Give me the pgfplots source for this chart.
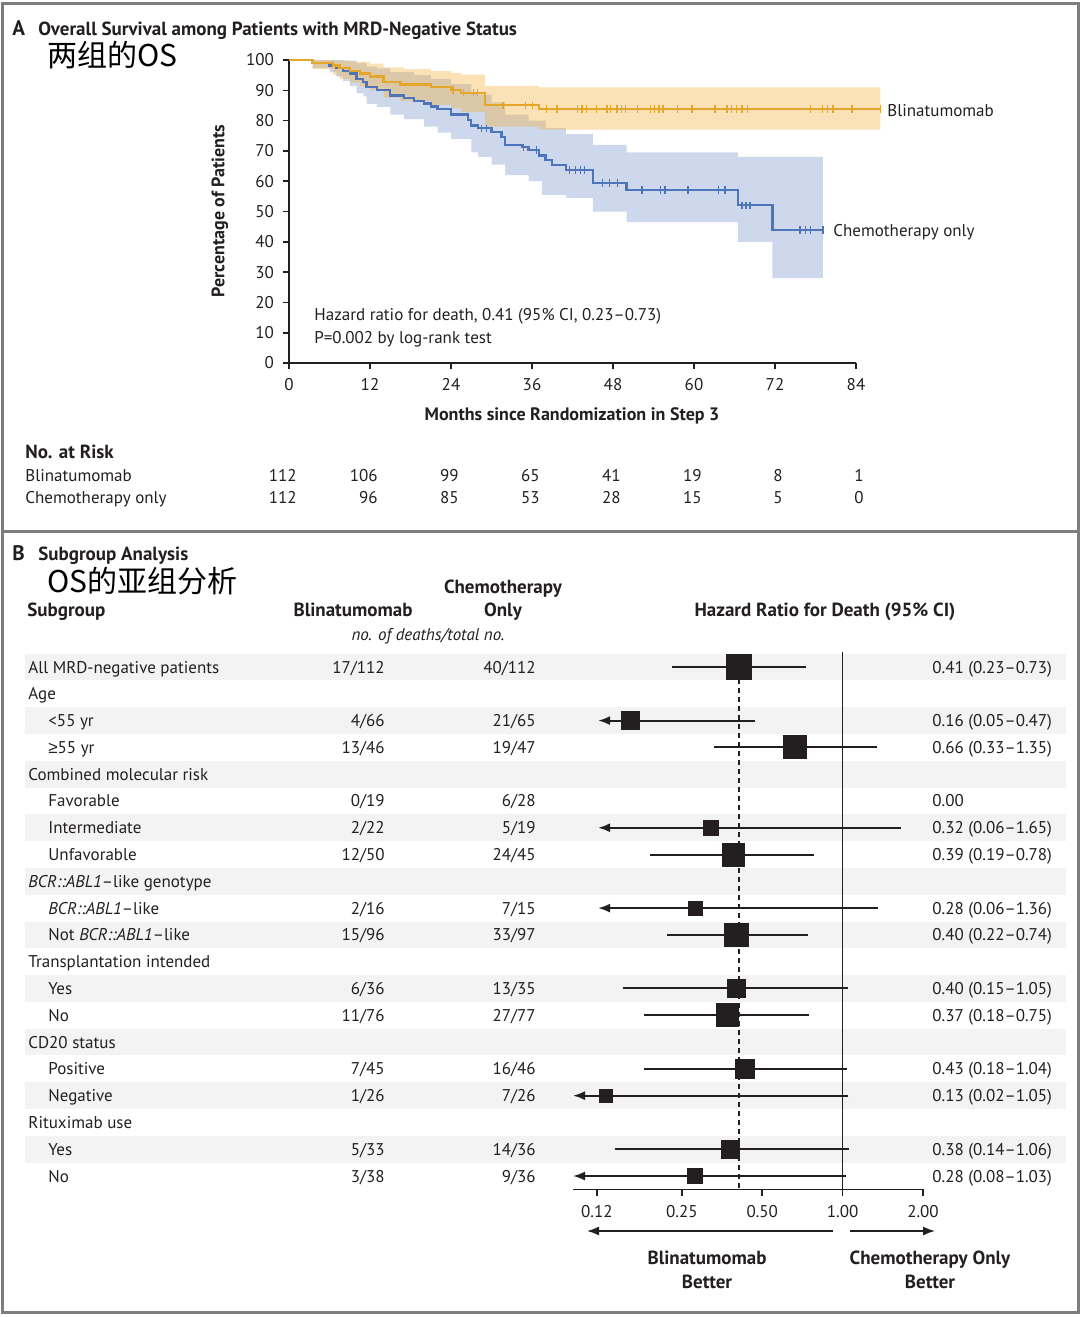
\documentclass[border=0pt]{standalone}
\usepackage{pgfplots}
\pgfplotsset{compat=1.18}
\usepackage{pgfplotstable}
\usepgfplotslibrary{fillbetween}
\usetikzlibrary{arrows.meta}
\usepackage{fontspec}
\setmainfont{PT Sans}
\newfontfamily\cjk{Noto Sans CJK SC}
\newfontfamily\symf{Liberation Sans}
\definecolor{orng}{RGB}{229,166,44}
\definecolor{orngband}{RGB}{242,172,45}
\definecolor{blu}{RGB}{78,116,186}
\definecolor{bluband}{RGB}{91,127,192}
\definecolor{txt}{RGB}{35,31,32}
\definecolor{rowg}{RGB}{243,243,243}
\definecolor{framec}{RGB}{125,125,125}

\pgfplotstableread{
row hr s
-1 0.41 6.25
-3 0.16 4.5
-4 0.66 5.75
-7 0.32 3.75
-8 0.39 5.7
-10 0.28 3.5
-11 0.40 5.8
-13 0.40 4.7
-14 0.37 5.7
-16 0.43 4.7
-17 0.13 3.2
-19 0.38 4.5
-20 0.28 3.8
}\forest

\newcommand{\fs}{\fontsize{8.5}{10}\selectfont}
\newcommand{\fb}{\bfseries\fontsize{9.5}{11}\selectfont}

\begin{document}
\begin{tikzpicture}[font=\fs,text=txt]
\begin{scope}[x=0.5pt,y=-0.5pt]
\useasboundingbox (0,0) rectangle (1080,1317);
\draw[framec,line width=1.5pt] (2,3) -- (1078,3) -- (1078,1312) -- (2,1312) -- cycle;
\draw[framec,line width=1.5pt] (2,531) -- (1078,531);
% row shading (panel B)
\foreach \i in {1,3,...,19}{
  \fill[rowg] (25,{667+(\i-1)*26.79-13.4}) rectangle (1066,{667+(\i-1)*26.79+13.4});
}
\end{scope}

% ---------------- Panel A axis ----------------
\begin{axis}[at={(144.5pt,-181.5pt)},anchor=south west,scale only axis,
  width=283.5pt,height=151.5pt,
  xmin=0,xmax=84,ymin=0,ymax=100,clip=false,
  axis x line*=bottom,axis y line*=left,
  x axis line style={-},y axis line style={-},
  axis line style={line width=0.8pt,txt},
  xtick={0,12,...,84},ytick={0,10,...,100},
  tick align=outside,major tick length=3pt,
  tick style={line width=0.8pt,txt},
  tick label style={font=\fs,text=txt},
  /pgf/number format/assume math mode=true,
  xticklabel style={yshift=-1pt},
  yticklabel style={xshift=-1pt}]
\addplot[const plot,draw=none,name path=bu] coordinates {
(0,100) (6,100) (8,99.8) (10,99) (11.5,97.8) (13,97.2) (15,96) (18.5,95) (21,93.8) (24,92) (27,89.5) (28,88.5) (30,86) (32,82) (35.5,80) (38,77.5) (41,75.5) (45,72) (50,69.5) (66.5,68) (79.1,68)};
\addplot[const plot,draw=none,name path=bl] coordinates {
(0,100) (3.5,97.3) (6,96) (7,94.5) (8,93) (9,91.5) (10,89) (11,88) (11.5,85.5) (13,84.5) (15,82) (17,80.5) (20,78) (22,76) (24,74) (27,69.5) (28,68) (30,65.5) (32,62) (35.5,60) (37.5,55.5) (41,54.5) (45,50) (50,46.5) (66.5,40) (71.6,28) (79.1,28)};
\addplot[fill=bluband,fill opacity=0.3,draw=none] fill between[of=bu and bl];
\addplot[const plot,draw=none,name path=ou] coordinates {
(0,100) (6.5,99.9) (9,99.5) (12,98.8) (14,97.6) (17,97) (21,96.3) (24,95.7) (25.5,95.2) (29,91.5) (37,91) (87.6,91)};
\addplot[const plot,draw=none,name path=ol] coordinates {
(0,100) (3.5,97) (6.5,95) (7.5,93.8) (9,92.5) (10.5,91.3) (12,90) (14,87.6) (16.5,86.5) (21,85.2) (24,84) (25.5,82.8) (29,78) (37,77) (87.6,77)};
\addplot[fill=orngband,fill opacity=0.35,draw=none] fill between[of=ou and ol];
\addplot[const plot,blu,line width=1.2pt] coordinates {
(0,100) (3.5,99.1) (6,98.2) (7,97.3) (8,96.4) (9,95.5) (10,93.7) (11,92.8) (11.5,91.0) (13,90.1) (15,88.3) (17,87.4) (18.5,86.5) (20,85.6) (21,84.7) (22,83.8) (24,82.0) (26.5,80.2) (27,78.4) (28,77.5) (30,76.2) (31.5,74.6) (32,72) (34.5,71.2) (35.5,70.3) (37,68.5) (38,67.0) (39,65.3) (41,63.7) (45,59.4) (50,57.1) (66.5,52.1) (71.6,43.9) (79.1,43.9)};
\addplot[const plot,orng,line width=1.2pt] coordinates {
(0,100) (3.5,99.1) (6.5,98.2) (7.5,97.3) (9,96.4) (10.5,95.5) (12,94.6) (14,92.8) (16.5,91.9) (21,91.0) (24,90.1) (25.5,89.2) (29,85.1) (37,83.8) (87.6,83.8)};
\addplot[only marks,mark=|,mark size=1.8pt,blu,mark options={line width=0.6pt}] coordinates {
(28.5,77.5) (29.3,77.5) (34.7,71.2) (36.7,70.3) (41.6,63.7) (42.5,63.7) (43.2,63.7) (43.8,63.7) (46.5,59.4) (47.5,59.4) (48.7,59.4) (52.3,57.1) (55,57.1) (55.7,57.1) (59.1,57.1) (63.6,57.1) (64.6,57.1) (67.1,52.1) (67.7,52.1) (68.3,52.1) (75.7,43.9) (76.5,43.9) (77.2,43.9) (79.1,43.9)};
\addplot[only marks,mark=|,mark size=1.8pt,orng,mark options={line width=0.6pt}] coordinates {
(24.3,90.1) (25.8,89.2) (27.3,89.2) (27.9,89.2) (31.7,85.1) (35,85.1) (36.1,85.1) (38.2,83.8) (39.7,83.8) (42.7,83.8) (43.4,83.8) (44.1,83.8) (45.6,83.8) (47.1,83.8) (47.6,83.8) (48.6,83.8) (49.3,83.8) (49.8,83.8) (51.6,83.8) (53.5,83.8) (54.2,83.8) (54.8,83.8) (55.4,83.8) (57.5,83.8) (59.7,83.8) (63.1,83.8) (64.9,83.8) (65.6,83.8) (66.3,83.8) (67.1,83.8) (67.9,83.8) (77.2,83.8) (79,83.8) (79.8,83.8) (80.6,83.8) (83.4,83.8) (87.6,83.8)};
\end{axis}

% ---------------- Panel B axis ----------------
\begin{axis}[at={(286.5pt,-594.7pt)},anchor=south west,scale only axis,
  width=175pt,height=267.9pt,
  xmode=log,log basis x=2,xmin=0.0977,xmax=2,ymin=-20.5,ymax=-0.5,clip=false,
  axis x line*=bottom,axis y line=none,
  x axis line style={-},
  axis line style={line width=0.8pt,txt},
  xtick={0.12,0.25,0.5,1,2},xticklabels={0.12,0.25,0.50,1.00,2.00},
  tick align=outside,major tick length=3.5pt,
  tick style={line width=0.8pt,txt},
  tick label style={font=\fs,text=txt},
  xticklabel style={yshift=-1pt}]
\addplot[line width=0.8pt,txt] coordinates {(1,-0.45) (1,-20.5)};
\addplot[line width=0.8pt,txt,dash pattern=on 2.5pt off 2pt] coordinates {(0.41,-1.45) (0.41,-20.5)};
\addplot[line width=1pt,txt] coordinates {(0.23,-1) (0.73,-1)};
\addplot[line width=1pt,txt,-{Latex[length=6pt,width=4.5pt]}] coordinates {(0.47,-3) (0.1213,-3)};
\addplot[line width=1pt,txt] coordinates {(0.33,-4) (1.35,-4)};
\addplot[line width=1pt,txt,-{Latex[length=6pt,width=4.5pt]}] coordinates {(1.65,-7) (0.1213,-7)};
\addplot[line width=1pt,txt] coordinates {(0.19,-8) (0.78,-8)};
\addplot[line width=1pt,txt,-{Latex[length=6pt,width=4.5pt]}] coordinates {(1.36,-10) (0.1213,-10)};
\addplot[line width=1pt,txt] coordinates {(0.22,-11) (0.74,-11)};
\addplot[line width=1pt,txt] coordinates {(0.15,-13) (1.05,-13)};
\addplot[line width=1pt,txt] coordinates {(0.18,-14) (0.75,-14)};
\addplot[line width=1pt,txt] coordinates {(0.18,-16) (1.04,-16)};
\addplot[line width=1pt,txt,-{Latex[length=6pt,width=4.5pt]}] coordinates {(1.05,-17) (0.0977,-17)};
\addplot[line width=1pt,txt] coordinates {(0.14,-19) (1.06,-19)};
\addplot[line width=1pt,txt,-{Latex[length=6pt,width=4.5pt]}] coordinates {(1.03,-20) (0.0977,-20)};
\addplot[scatter,only marks,mark=square*,
  scatter/use mapped color={draw=txt,fill=txt},
  visualization depends on={\thisrow{s} \as \ms},
  scatter/@pre marker code/.append style={/tikz/mark size=\ms}]
  table[x=hr,y=row] {\forest};
\end{axis}

\begin{scope}[x=0.5pt,y=-0.5pt,every node/.style={inner sep=0pt}]
% Panel A text
\node[anchor=base west,font=\bfseries\fontsize{10.5}{12}\selectfont] at (12,35) {A};
\node[anchor=base west,font=\fb] at (38,35) {Overall Survival among Patients with MRD-Negative Status};
\node[anchor=base west,font=\cjk\fontsize{15}{17}\selectfont,text=black] at (47,66) {两组的OS};
\node[anchor=west] at (887,111) {Blinatumomab};
\node[anchor=west] at (833,232) {Chemotherapy only};
\node[anchor=base west] at (314,320) {Hazard ratio for death, 0.41 (95\% CI, 0.23--0.73)};
\node[anchor=base west] at (314,343) {P=0.002 by log-rank test};
\node[rotate=90,font=\bfseries\fontsize{9}{10}\selectfont] at (220,211) {Percentage of Patients};
\node[font=\bfseries\fontsize{9}{10}\selectfont] at (572,416) {Months since Randomization in Step 3};
\node[anchor=base west,font=\fb] at (25,458) {No. at Risk};
\node[anchor=base west] at (25,481) {Blinatumomab};
\node[anchor=base west] at (25,503) {Chemotherapy only};
\foreach \x/\a/\b in {289/112/112,370/106/96,451/99/85,532/65/53,613/41/28,694/19/15,775/8/5,856/1/0}{
  \node[anchor=base east] at (\x+8,481) {\a};
  \node[anchor=base east] at (\x+8,503) {\b};
}
% Panel B text
\node[anchor=base west,font=\bfseries\fontsize{10.5}{12}\selectfont] at (12,560) {B};
\node[anchor=base west,font=\fb] at (38,560) {Subgroup Analysis};
\node[anchor=base west,font=\cjk\fontsize{15}{17}\selectfont,text=black] at (47,592) {OS的亚组分析};
\node[anchor=base west,font=\fb] at (27,616) {Subgroup};
\node[anchor=base,font=\fb] at (353,616) {Blinatumomab};
\node[anchor=base,font=\fb] at (503,593) {Chemotherapy};
\node[anchor=base,font=\fb] at (503,616) {Only};
\node[anchor=base,font=\itshape\fs] at (428,640) {no. of deaths/total no.};
\node[anchor=base,font=\fb] at (825,616) {Hazard Ratio for Death (95\% CI)};
\foreach \i/\ind/\lab/\b/\c/\hr in {
 1/28/{All MRD-negative patients}/17\slash 112/40\slash 112/{0.41 (0.23--0.73)},
 2/28/{Age}/{}/{}/{},
 3/48/{<55 yr}/4\slash 66/21\slash 65/{0.16 (0.05--0.47)},
 4/48/{{\symf ≥}55 yr}/13\slash 46/19\slash 47/{0.66 (0.33--1.35)},
 5/28/{Combined molecular risk}/{}/{}/{},
 6/48/{Favorable}/0\slash 19/6\slash 28/{0.00},
 7/48/{Intermediate}/2\slash 22/5\slash 19/{0.32 (0.06--1.65)},
 8/48/{Unfavorable}/12\slash 50/24\slash 45/{0.39 (0.19--0.78)},
 9/28/{\textit{BCR::ABL1}--like genotype}/{}/{}/{},
 10/48/{\textit{BCR::ABL1}--like}/2\slash 16/7\slash 15/{0.28 (0.06--1.36)},
 11/48/{Not \textit{BCR::ABL1}--like}/15\slash 96/33\slash 97/{0.40 (0.22--0.74)},
 12/28/{Transplantation intended}/{}/{}/{},
 13/48/{Yes}/6\slash 36/13\slash 35/{0.40 (0.15--1.05)},
 14/48/{No}/11\slash 76/27\slash 77/{0.37 (0.18--0.75)},
 15/28/{CD20 status}/{}/{}/{},
 16/48/{Positive}/7\slash 45/16\slash 46/{0.43 (0.18--1.04)},
 17/48/{Negative}/1\slash 26/7\slash 26/{0.13 (0.02--1.05)},
 18/28/{Rituximab use}/{}/{}/{},
 19/48/{Yes}/5\slash 33/14\slash 36/{0.38 (0.14--1.06)},
 20/48/{No}/3\slash 38/9\slash 36/{0.28 (0.08--1.03)}}{
  \node[anchor=base west] at (\ind,{667+(\i-1)*26.79+6}) {\lab};
  \node[anchor=base east] at (385,{667+(\i-1)*26.79+6}) {\b};
  \node[anchor=base east] at (536,{667+(\i-1)*26.79+6}) {\c};
  \node[anchor=base west] at (932,{667+(\i-1)*26.79+6}) {\hr};
}
\draw[txt,line width=0.8pt,-{Latex[length=6pt,width=4.5pt]}] (833,1231) -- (587,1231);
\draw[txt,line width=0.8pt,-{Latex[length=6pt,width=4.5pt]}] (850,1231) -- (935,1231);
\node[align=center,font=\fb] at (707,1270) {Blinatumomab\\[1pt]Better};
\node[align=center,font=\fb] at (930,1270) {Chemotherapy Only\\[1pt]Better};
\end{scope}
\end{tikzpicture}
\end{document}
